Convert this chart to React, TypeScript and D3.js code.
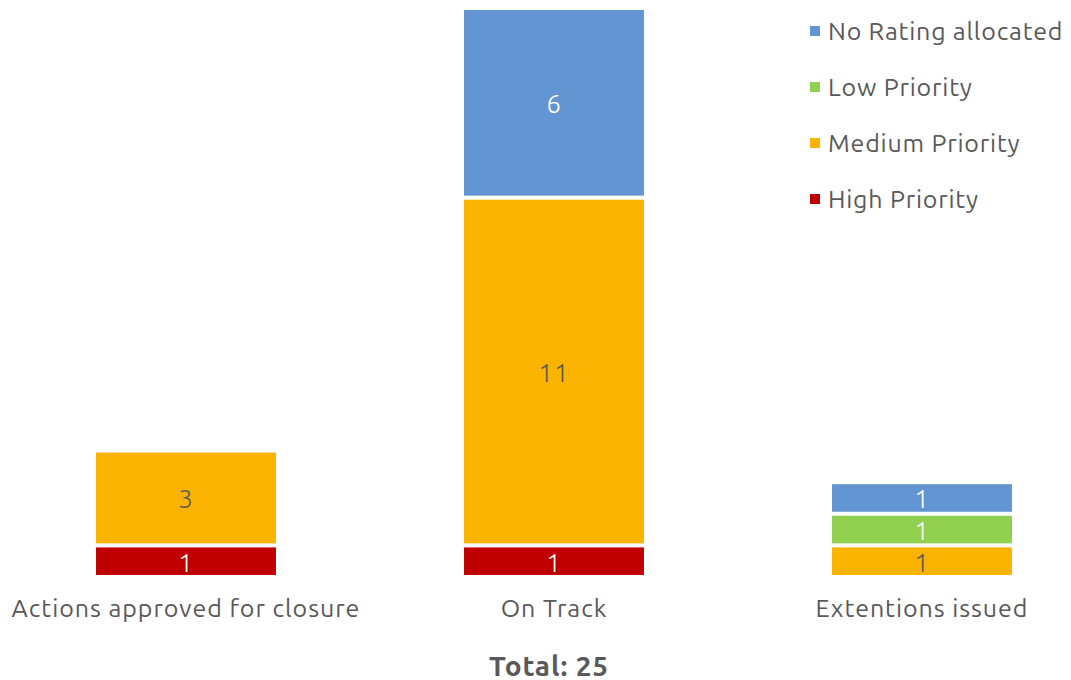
import React from "react";
import * as d3 from "d3";

const categories = ["Actions approved for closure", "On Track", "Extentions issued"];
const seriesNames = ["High Priority", "Medium Priority", "Low Priority", "No Rating allocated"];
const seriesColors = ["#C00000", "#FAB300", "#92D050", "#6495D3"];
const labelColors = ["#FFFFFF", "#595959", "#FFFFFF", "#FFFFFF"];
const highPriority = [1, 1, 0];
const mediumPriority = [3, 11, 1];
const lowPriority = [0, 0, 1];
const noRating = [0, 6, 1];
const totalLabel = "Total: 25";

const W = 1071;
const H = 680;
const FONT = "Ubuntu, 'Open Sans', 'Noto Sans', sans-serif";

export default function App() {
  const rows = categories.map((c, i) => ({
    cat: c,
    "High Priority": highPriority[i],
    "Medium Priority": mediumPriority[i],
    "Low Priority": lowPriority[i],
    "No Rating allocated": noRating[i],
  }));
  const stacked = d3.stack<any>().keys(seriesNames)(rows);

  const x = d3
    .scaleBand<string>()
    .domain(categories)
    .range([2, 1106])
    .paddingInner(0.511)
    .paddingOuter(0.2555);
  const y = d3.scaleLinear().domain([0, 18]).range([577, 8]);
  const gap = 2;

  const legendOrder = [...seriesNames].reverse();

  return (
    <svg width={W} height={H} style={{ position: "absolute", left: 0, top: 0, background: "#fff" }}>
      {stacked.map((layer, si) => (
        <g key={layer.key}>
          {layer.map((d, ci) => {
            const v = d[1] - d[0];
            if (v <= 0) return null;
            const x0 = x(categories[ci])!;
            const top = y(d[1]) + gap;
            const bottom = y(d[0]) - gap;
            return (
              <g key={ci}>
                <rect
                  x={x0}
                  y={top}
                  width={x.bandwidth()}
                  height={bottom - top}
                  fill={seriesColors[si]}
                />
                <text
                  x={x0 + x.bandwidth() / 2}
                  y={(top + bottom) / 2 + 1}
                  dy="0.36em"
                  textAnchor="middle"
                  fontFamily={FONT}
                  fontSize={26}
                  fontWeight={300}
                  letterSpacing={1}
                  fill={labelColors[si]}
                >
                  {v}
                </text>
              </g>
            );
          })}
        </g>
      ))}
      {categories.map((c) => (
        <text
          key={c}
          x={x(c)! + x.bandwidth() / 2}
          y={617}
          textAnchor="middle"
          fontFamily={FONT}
          fontSize={25}
          letterSpacing={0.95}
          fill="#595959"
        >
          {c}
        </text>
      ))}
      <text
        x={549}
        y={676}
        textAnchor="middle"
        fontFamily={FONT}
        fontSize={28}
        fontWeight={700}
        letterSpacing={0.8}
        fill="#595959"
      >
        {totalLabel}
      </text>
      {legendOrder.map((name, i) => {
        const si = seriesNames.indexOf(name);
        const cy = 31 + i * 56;
        return (
          <g key={name}>
            <rect x={810} y={cy - 5} width={10} height={10} fill={seriesColors[si]} />
            <text
              x={828}
              y={cy}
              dy="0.36em"
              fontFamily={FONT}
              fontSize={25}
              letterSpacing={0.8}
              fill="#595959"
            >
              {name}
            </text>
          </g>
        );
      })}
    </svg>
  );
}
